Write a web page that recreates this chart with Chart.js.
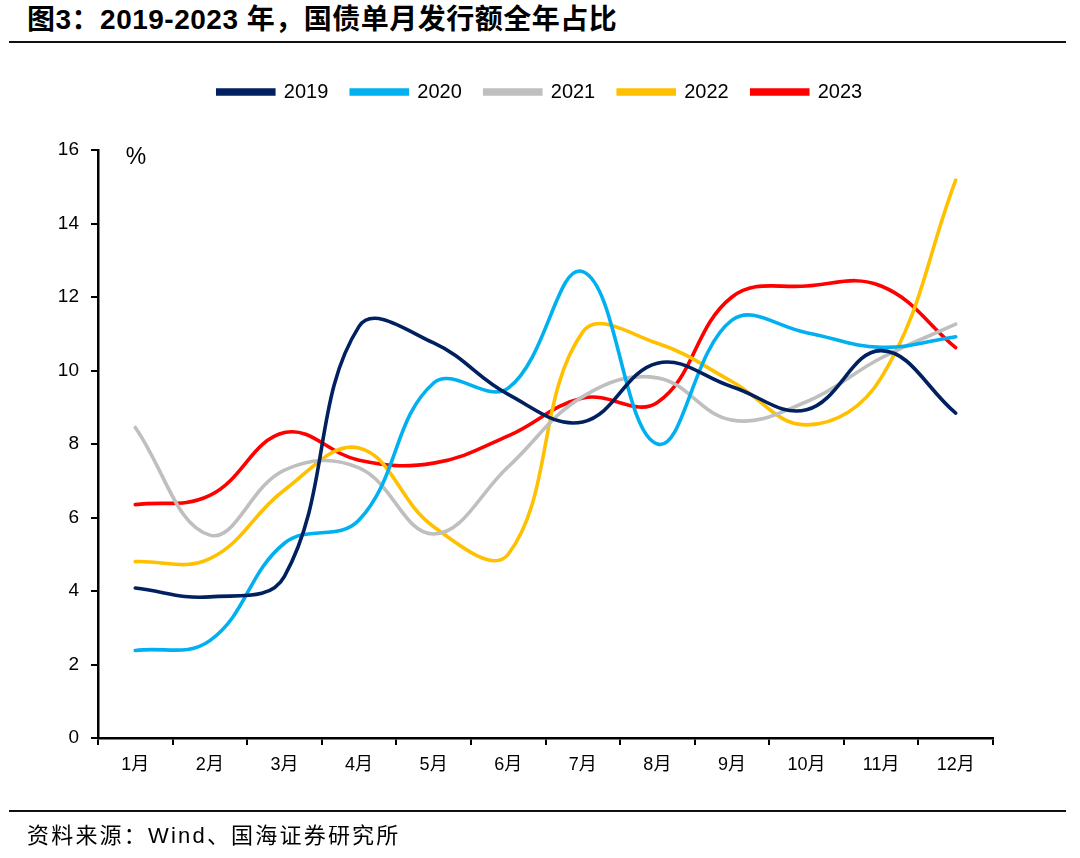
<!DOCTYPE html>
<html><head><meta charset="utf-8">
<script src="https://cdn.jsdelivr.net/npm/chart.js@4/dist/chart.umd.min.js"></script>
<style>
html,body{margin:0;padding:0;background:#fff}
body{width:1080px;height:858px;position:relative;overflow:hidden;font-family:"Liberation Sans",Arial,"Noto Sans CJK SC",sans-serif;color:#000}
#title{position:absolute;left:27px;top:2px;font-size:28px;font-weight:bold;line-height:36px;letter-spacing:0.5px;white-space:nowrap;font-family:"Liberation Sans",Arial,"Noto Sans CJK SC",sans-serif}
.rule{position:absolute;left:9px;width:1057px;height:2px;background:#111}
#src{position:absolute;left:27px;top:821px;font-size:22px;line-height:30px;letter-spacing:2.2px;white-space:nowrap;font-family:"Liberation Sans",Arial,"Noto Sans CJK SC",sans-serif}
#wrap{position:absolute;left:0;top:0;width:1080px;height:858px}
</style></head>
<body>
<div id="title">图3：2019-2023 年，国债单月发行额全年占比</div>
<div class="rule" style="top:41px"></div>
<div id="wrap"><canvas id="c" width="1080" height="858"></canvas></div>
<div class="rule" style="top:810px"></div>
<div id="src">资料来源：Wind、国海证券研究所</div>
<script>
const categories = ["1月","2月","3月","4月","5月","6月","7月","8月","9月","10月","11月","12月"];
const seriesNames = ["2019","2020","2021","2022","2023"];
const seriesColors = ["#002060","#00B0F0","#BFBFBF","#FFC000","#FF0000"];
const s2019 = [4.08, 3.84, 4.4, 11.2, 10.75, 9.35, 8.6, 10.2, 9.56, 8.93, 10.54, 8.84];
const s2020 = [2.38, 2.65, 5.3, 5.93, 9.66, 9.52, 12.69, 8.0, 11.37, 11.03, 10.63, 10.92];
const s2021 = [8.45, 5.52, 7.29, 7.35, 5.55, 7.38, 9.29, 9.8, 8.65, 9.15, 10.34, 11.26];
const s2022 = [4.8, 4.88, 6.75, 7.89, 5.75, 5.0, 11.05, 10.74, 9.7, 8.52, 9.8, 15.18];
const s2023 = [6.35, 6.6, 8.31, 7.56, 7.48, 8.22, 9.25, 9.13, 12.0, 12.3, 12.3, 10.62];
const seriesValues = [s2019, s2020, s2021, s2022, s2023];
const yTicks = [0,2,4,6,8,10,12,14,16];

const fontFam = '"Liberation Sans", Arial, "Noto Sans CJK SC", sans-serif';

const datasets = seriesNames.map((n,i)=>({
  label:n, data:seriesValues[i], borderColor:seriesColors[i], backgroundColor:seriesColors[i],
  borderWidth:3.6, pointRadius:0, pointHoverRadius:0, tension:0.4, fill:false, borderCapStyle:'round',
  yAxisID:'y'
}));

const legendSpacer = {
  id:'legendSpacer',
  beforeInit(chart){
    const lg = chart.legend;
    if(!lg) return;
    const fit = lg.fit;
    lg.fit = function(){ fit.bind(lg)(); this.height = 91; };
  }
};
const pctLabel = {
  id:'pctLabel',
  afterDraw(chart){
    const {ctx, chartArea} = chart;
    ctx.save();
    ctx.fillStyle = '#000';
    ctx.font = '23px ' + fontFam;
    ctx.textAlign = 'center';
    ctx.textBaseline = 'middle';
    ctx.fillText('%', chartArea.left + 38, chartArea.top + 8);
    ctx.restore();
  }
};

new Chart(document.getElementById('c'), {
  type:'line',
  data:{labels:categories, datasets},
  options:{
    responsive:false, animation:false, devicePixelRatio:1,
    layout:{padding:{top:59,left:0,right:0,bottom:80}},
    plugins:{
      legend:{display:true, position:'top', align:'center',
        labels:{boxWidth:56, boxHeight:4, padding:23, color:'#000', font:{family:fontFam, size:20}}},
      tooltip:{enabled:false},
      title:{display:false}
    },
    scales:{
      x:{type:'category', offset:true,
        afterFit(s){ s.height = 40; },
        grid:{offset:true, drawOnChartArea:false, drawTicks:true, tickLength:7, color:'#000', lineWidth:2},
        border:{display:true, color:'#000', width:2.5},
        ticks:{color:'#000', padding:9, font:{family:fontFam, size:18}, maxRotation:0, autoSkip:false}
      },
      y:{min:0, max:16, position:'left',
        afterFit(s){ s.width = 98; },
        afterBuildTicks(s){ s.ticks = yTicks.map(v=>({value:v})); },
        grid:{drawOnChartArea:false, drawTicks:true, tickLength:7, color:'#000', lineWidth:2},
        border:{display:true, color:'#000', width:2.5},
        ticks:{color:'#000', padding:12, font:{family:fontFam, size:19}, autoSkip:false}
      },
      yRight:{min:0, max:16, position:'right', display:true,
        afterFit(s){ s.width = 87; },
        grid:{display:false, drawOnChartArea:false},
        border:{display:false},
        ticks:{display:false}
      }
    }
  },
  plugins:[legendSpacer, pctLabel]
});
</script>
</body></html>
